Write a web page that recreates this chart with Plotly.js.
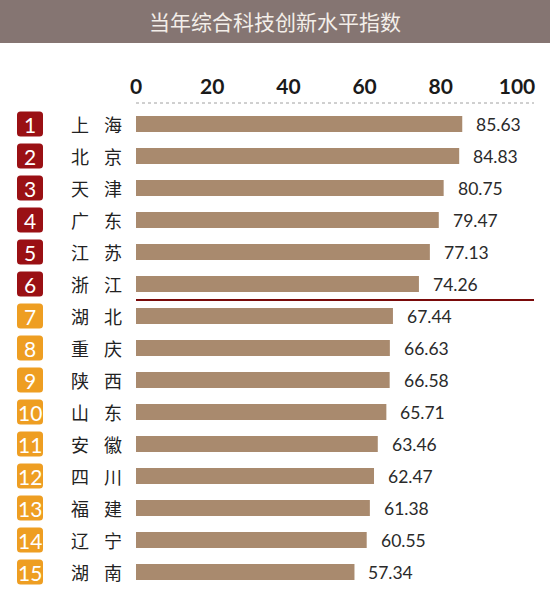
<!DOCTYPE html>
<html>
<head>
<meta charset="utf-8">
<script src="https://cdn.plot.ly/plotly-3.0.1.min.js"></script>
<style>
  html, body { margin: 0; padding: 0; background: #fff; }
  #chart { width: 550px; height: 590px; }
</style>
</head>
<body>
<div id="chart"></div>
<script>
// 当年综合科技创新水平指数 — 前15名省市
const provinces = ['上海', '北京', '天津', '广东', '江苏', '浙江', '湖北', '重庆', '陕西', '山东', '安徽', '四川', '福建', '辽宁', '湖南'];
const ranks = [1, 2, 3, 4, 5, 6, 7, 8, 9, 10, 11, 12, 13, 14, 15];
const scores = [85.63, 84.83, 80.75, 79.47, 77.13, 74.26, 67.44, 66.63, 66.58, 65.71, 63.46, 62.47, 61.38, 60.55, 57.34];
const xTicks = [0, 20, 40, 60, 80, 100];

const COLORS = {
  bar: '#a98a6e',
  top: '#9a1014',     // 前6名
  rest: '#ee9e22',    // 7-15名
  banner: '#857572',
  text: '#222222',
  cut: '#7a0a0a',
};
const CJK = '"Noto Sans CJK SC", "Noto Sans", sans-serif';
const NUM = 'Lato, "Open Sans", sans-serif';

// 像素 → paper 坐标 (绘图区 l=136, 宽 381; t=108, 高 480)
const L = 136, W = 381, T = 108, H = 480;
const px = p => (p - L) / W;
const py = p => (T + H - p) / H;

function roundRect(w, h, r) {
  const x0 = -w / 2, x1 = w / 2, y0 = -h / 2, y1 = h / 2;
  return `M ${x0 + r},${y0} L ${x1 - r},${y0} Q ${x1},${y0} ${x1},${y0 + r} L ${x1},${y1 - r} Q ${x1},${y1} ${x1 - r},${y1} ` +
         `L ${x0 + r},${y1} Q ${x0},${y1} ${x0},${y1 - r} L ${x0},${y0 + r} Q ${x0},${y0} ${x0 + r},${y0} Z`;
}

const shapes = [
  // 标题底色
  { type: 'rect', xref: 'paper', yref: 'paper', x0: px(0), x1: px(550), y0: py(43), y1: py(0),
    fillcolor: COLORS.banner, line: { width: 0 }, layer: 'below' },
  // 刻度下虚线
  { type: 'line', xref: 'paper', yref: 'paper', x0: 0, x1: px(534), y0: py(103), y1: py(103),
    line: { color: '#a0a0a0', width: 1, dash: 'dot' } },
  // 前6名分隔线
  { type: 'line', xref: 'paper', yref: 'y', x0: 0, x1: px(534), y0: 5.5, y1: 5.5,
    line: { color: COLORS.cut, width: 2 } },
];

const annotations = [];
provinces.forEach((name, i) => {
  const c = ranks[i] <= 6 ? COLORS.top : COLORS.rest;
  shapes.push({
    type: 'path', xref: 'paper', yref: 'y', xsizemode: 'pixel', ysizemode: 'pixel',
    xanchor: px(30), yanchor: name, path: roundRect(26, 25, 3.5),
    fillcolor: c, line: { width: 0 },
  });
  annotations.push({
    xref: 'paper', yref: 'y', x: px(30), y: name, text: String(ranks[i]), showarrow: false,
    xanchor: 'center', yanchor: 'middle', font: { family: NUM, size: 21, color: '#ffffff' },
  });
  [...name].forEach((ch, k) => {
    annotations.push({
      xref: 'paper', yref: 'y', x: px(k === 0 ? 80 : 113), y: name, text: ch, showarrow: false,
      xanchor: 'center', yanchor: 'middle', font: { family: CJK, size: 18, color: COLORS.text },
    });
  });
  annotations.push({
    xref: 'x', yref: 'y', x: scores[i], y: name, text: scores[i].toFixed(2), showarrow: false,
    xanchor: 'left', yanchor: 'middle', xshift: 12, font: { family: NUM, size: 17.5, color: '#2a2a2a' },
  });
});

const traces = [{
  type: 'bar', orientation: 'h', x: scores, y: provinces, width: 0.5,
  marker: { color: COLORS.bar }, hoverinfo: 'x+y',
}];

const layout = {
  width: 550, height: 590,
  margin: { l: L, r: 550 - L - W, t: T, b: 590 - T - H, pad: 0 },
  paper_bgcolor: '#ffffff', plot_bgcolor: '#ffffff',
  title: {
    text: '当年综合科技创新水平指数', xref: 'container', x: 0.5, xanchor: 'center',
    yref: 'container', y: 1 - 23 / 590, yanchor: 'middle',
    font: { family: CJK, size: 21, color: '#f3eee9' },
  },
  xaxis: {
    side: 'top', range: [0, 100], tickvals: xTicks, ticks: '', showgrid: false, zeroline: false, showline: false,
    tickfont: { family: NUM, size: 21, color: '#1a1a1a', weight: 'bold' }, ticklabelstandoff: 9, fixedrange: true,
  },
  yaxis: {
    type: 'category', categoryarray: provinces, autorange: 'reversed', showticklabels: false,
    ticks: '', showgrid: false, zeroline: false, showline: false, fixedrange: true,
  },
  showlegend: false,
  shapes, annotations,
};

Plotly.newPlot('chart', traces, layout, { displayModeBar: false, responsive: false });
</script>
</body>
</html>
